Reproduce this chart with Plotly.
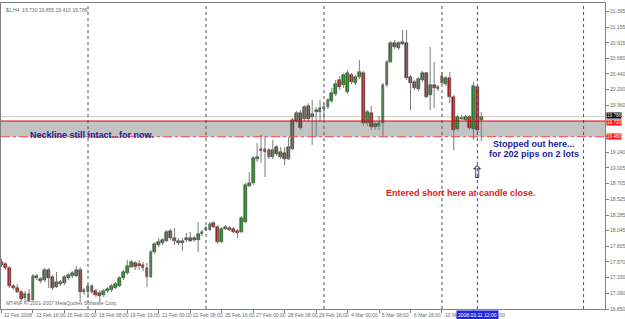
import plotly.graph_objects as go

# ---------------- data (H4 bars from 12 Feb 2008 08:00) ----------------
opens = [17.567, 17.537, 17.476, 17.201, 17.171, 17.109, 17.018, 17.079, 16.987, 17.353,
         17.308, 17.293, 17.445, 17.338, 17.186, 17.232, 17.247, 17.323, 17.353, 17.353,
         17.445, 17.109, 17.109, 17.201, 17.125, 17.094, 17.064, 17.125, 17.140, 17.171,
         17.201, 17.323, 17.399, 17.491, 17.552, 17.537, 17.522, 17.476, 17.338, 17.720,
         17.827, 17.857, 17.888, 18.041, 17.934, 17.888, 17.857, 17.903, 17.934, 17.934,
         17.903, 17.995, 18.056, 18.056, 18.163, 18.102, 17.873, 18.072, 18.087, 18.072,
         18.041, 18.025, 18.178, 18.728, 18.774, 19.140, 19.292, 19.292, 19.277, 19.171,
         19.323, 19.171, 19.231, 19.140, 19.292, 19.720, 19.842, 19.751, 19.949, 19.781,
         19.858, 19.858, 19.903, 19.934, 20.026, 20.132, 20.346, 20.270, 20.163, 20.423,
         20.300, 20.392, 20.453, 19.690, 19.842, 19.629, 19.644, 19.690, 20.270, 20.621,
         20.911, 20.835, 20.896, 20.911, 20.392, 20.316, 20.209, 20.346, 20.453, 20.117,
         20.270, 20.209, 20.407, 20.285, 20.377, 20.087, 19.598, 19.751, 19.735, 19.781,
         19.598, 20.239, 19.730]
highs = [17.614, 17.567, 17.506, 17.232, 17.232, 17.140, 17.125, 17.156, 17.384, 17.384,
         17.338, 17.476, 17.476, 17.369, 17.415, 17.293, 17.369, 17.399, 17.430, 17.506,
         17.491, 17.171, 17.232, 17.232, 17.156, 17.140, 17.156, 17.186, 17.232, 17.262,
         17.353, 17.445, 17.598, 17.598, 17.583, 17.598, 17.567, 17.552, 17.751, 17.873,
         17.934, 17.934, 18.056, 18.072, 18.087, 17.934, 17.934, 18.010, 18.025, 17.964,
         18.178, 18.056, 18.117, 18.178, 18.194, 18.133, 18.102, 18.133, 18.117, 18.102,
         18.072, 18.270, 18.774, 18.941, 19.186, 19.384, 19.506, 19.491, 19.308, 19.430,
         19.354, 19.323, 19.323, 19.476, 19.766, 19.873, 19.888, 19.964, 19.995, 20.041,
         19.934, 20.041, 20.010, 20.071, 20.224, 20.346, 20.407, 20.453, 20.499, 20.453,
         20.423, 20.651, 20.484, 19.888, 19.949, 19.705, 19.797, 20.300, 20.651, 20.942,
         20.957, 20.942, 21.110, 21.110, 20.423, 20.346, 20.392, 20.484, 20.468, 20.850,
         20.621, 20.270, 20.468, 20.407, 20.468, 20.117, 19.812, 19.812, 19.812, 19.812,
         20.316, 20.270, 19.855]
lows = [17.491, 17.445, 17.171, 17.140, 17.094, 16.972, 16.926, 16.956, 16.972, 17.293,
        17.247, 17.262, 17.171, 17.140, 17.171, 17.201, 17.217, 17.293, 17.323, 17.338,
        16.956, 17.064, 17.018, 17.079, 17.033, 16.956, 17.033, 17.094, 17.109, 17.156,
        17.186, 17.293, 17.369, 17.476, 17.445, 17.445, 17.430, 17.186, 17.323, 17.690,
        17.796, 17.827, 17.873, 17.903, 17.827, 17.827, 17.736, 17.873, 17.873, 17.873,
        17.720, 17.964, 18.041, 18.041, 18.087, 17.842, 17.857, 18.056, 18.041, 18.010,
        17.934, 18.010, 18.163, 18.713, 18.743, 19.094, 19.079, 18.865, 19.140, 19.140,
        19.186, 19.140, 19.049, 19.125, 19.277, 19.690, 19.583, 19.720, 19.720, 19.354,
        19.476, 19.705, 19.735, 19.903, 19.995, 20.102, 20.193, 20.224, 20.132, 20.285,
        20.270, 20.362, 19.644, 19.644, 19.583, 19.583, 19.583, 19.476, 20.239, 20.606,
        20.819, 20.804, 20.880, 20.346, 19.888, 20.193, 20.178, 20.316, 20.071, 19.888,
        19.919, 20.178, 20.270, 20.255, 19.995, 19.277, 19.568, 19.735, 19.720, 19.583,
        19.430, 19.552, 19.410]
closes = [17.522, 17.476, 17.201, 17.171, 17.109, 17.002, 17.079, 16.972, 17.353, 17.323,
          17.278, 17.445, 17.323, 17.171, 17.262, 17.262, 17.338, 17.369, 17.399, 17.445,
          17.109, 17.140, 17.201, 17.109, 17.064, 17.048, 17.125, 17.156, 17.201, 17.232,
          17.323, 17.415, 17.506, 17.567, 17.491, 17.506, 17.476, 17.338, 17.720, 17.842,
          17.873, 17.903, 18.025, 17.934, 17.888, 17.857, 17.888, 17.934, 17.888, 17.903,
          17.995, 18.025, 18.087, 18.148, 18.102, 17.873, 18.072, 18.102, 18.056, 18.025,
          18.010, 18.239, 18.743, 18.774, 19.155, 19.171, 19.262, 19.247, 19.171, 19.277,
          19.216, 19.247, 19.140, 19.323, 19.735, 19.842, 19.613, 19.934, 19.751, 19.827,
          19.888, 19.919, 19.934, 20.041, 20.148, 20.285, 20.239, 20.423, 20.453, 20.316,
          20.392, 20.468, 19.690, 19.858, 19.629, 19.675, 19.690, 20.270, 20.621, 20.911,
          20.850, 20.911, 20.926, 20.377, 20.300, 20.224, 20.362, 20.453, 20.087, 20.270,
          20.224, 20.239, 20.300, 20.377, 20.087, 19.583, 19.781, 19.766, 19.781, 19.614,
          20.255, 19.583, 19.786]

x_tick_idx = [0, 8, 16, 24, 32, 40, 48, 56, 64, 72, 80, 88, 96, 104, 112, 120]
x_tick_labels = ["12 Feb 2008", "13 Feb 16:00", "15 Feb 00:00", "18 Feb 08:00",
                 "19 Feb 16:00", "21 Feb 00:00", "22 Feb 08:00", "25 Feb 16:00",
                 "27 Feb 00:00", "28 Feb 08:00", "29 Feb 16:00", "4 Mar 00:00",
                 "5 Mar 08:00", "6 Mar 16:00", "10 Mar 00:00", "11 Mar 08:00"]
separators = [22, 52, 82, 112, 148]
cursor_idx = 121
cursor_label = "2008.03.11 12:00"

y_tick_vals = [21.395, 21.155, 20.915, 20.680, 20.440, 20.200, 19.960, 19.720, 19.480,
               19.240, 19.005, 18.765, 18.525, 18.285, 18.045, 17.805, 17.570, 17.330,
               17.090, 16.850]
y_tick_text = ["21.395", "21.155", "20.915", "20.680", "20.440", "20.200", "19.960", "", "",
               "19.240", "19.005", "18.765", "18.525", "18.285", "18.045", "17.805", "17.570",
               "17.330", "17.090", "16.850"]
neck_top = 19.720
neck_bot = 19.480
bid = 19.786
header = "$1,H4  19.730 19.855 19.410 19.786"

# ---------------- figure ----------------
idx = list(range(len(opens)))
wx, wy = [], []
for i in idx:
    wx += [i, i, None]
    wy += [lows[i], highs[i], None]

body_base = [min(o, c) for o, c in zip(opens, closes)]
body_h = [max(abs(c - o), 0.012) for o, c in zip(opens, closes)]
body_col = ["#1f8a1f" if c >= o else "#b02020" for o, c in zip(opens, closes)]

fig = go.Figure()
fig.add_trace(go.Scatter(x=wx, y=wy, mode="lines", line=dict(color="#7a7a7a", width=1),
                         hoverinfo="skip", showlegend=False))
fig.add_trace(go.Bar(x=idx, y=body_h, base=body_base, width=0.72,
                     marker=dict(color=body_col, line=dict(color="#202020", width=0.5)),
                     showlegend=False))

shapes = []
shapes.append(dict(type="rect", xref="paper", x0=0, x1=1, yref="y", y0=neck_bot, y1=neck_top,
                   fillcolor="#c3c3c3", line=dict(width=0), layer="below"))
shapes.append(dict(type="line", xref="paper", x0=0, x1=1, yref="y", y0=bid, y1=bid,
                   line=dict(color="#c8c8c8", width=1), layer="below"))
for s in separators:
    shapes.append(dict(type="line", xref="x", x0=s, x1=s, yref="paper", y0=0, y1=1,
                       line=dict(color="#505050", width=1, dash="dot"), layer="below"))
shapes.append(dict(type="line", xref="x", x0=cursor_idx, x1=cursor_idx, yref="paper", y0=0, y1=1,
                   line=dict(color="#3a3aff", width=1, dash="dot")))
shapes.append(dict(type="line", xref="paper", x0=0, x1=1, yref="y", y0=neck_top, y1=neck_top,
                   line=dict(color="#e00000", width=1)))
shapes.append(dict(type="line", xref="paper", x0=0, x1=1, yref="y", y0=neck_bot, y1=neck_bot,
                   line=dict(color="#ff4040", width=1, dash="dashdot")))

ann = []
small = dict(family="Liberation Sans", size=5, color="#6a6a6a")
for i, t in zip(x_tick_idx, x_tick_labels):
    ann.append(dict(x=i, xref="x", y=0, yref="paper", text=t, showarrow=False,
                    xanchor="left", yanchor="top", xshift=1, yshift=-1, font=small))
ann.append(dict(x=cursor_idx, xref="x", y=0, yref="paper", text=cursor_label, showarrow=False,
                xanchor="center", yanchor="top", yshift=-1, bgcolor="#2424e0", borderpad=1,
                font=dict(family="Liberation Sans", size=5, color="white")))
ann.append(dict(x=1, xref="paper", y=bid, yref="y", text="19.786", showarrow=False,
                xanchor="left", xshift=1, yshift=1, bgcolor="black", borderpad=0,
                font=dict(family="Liberation Sans", size=4.6, color="white")))
for v, t, sh in [(neck_top, "19.720", -1), (neck_bot, "19.480", 0)]:
    ann.append(dict(x=1, xref="paper", y=v, yref="y", text=t, showarrow=False,
                    xanchor="left", xshift=1, yshift=sh, bgcolor="#ff1010", borderpad=0,
                    font=dict(family="Liberation Sans", size=4.6, color="white")))
ann.append(dict(x=0, xref="paper", y=1, yref="paper", text=header, showarrow=False,
                xanchor="left", yanchor="top", xshift=3, yshift=-2, font=small))
ann.append(dict(x=0, xref="paper", y=0, yref="paper",
                text="MT4NF, © 2001-2007 MetaQuotes Software Corp.", showarrow=False,
                xanchor="left", yanchor="bottom", xshift=3, yshift=1, font=small))
blue = dict(family="Liberation Sans", size=9, color="#1a1aa0")
ann.append(dict(x=6.75, xref="x", y=19.507, yref="y", text="<b>Neckline still intact...for now.</b>",
                showarrow=False, xanchor="left", yanchor="middle", font=blue))
ann.append(dict(x=135.4, xref="x", y=19.369, yref="y", text="<b>Stopped out here...</b>",
                showarrow=False, xanchor="center", yanchor="middle", font=blue))
ann.append(dict(x=135.4, xref="x", y=19.216, yref="y", text="<b>for 202 pips on 2 lots</b>",
                showarrow=False, xanchor="center", yanchor="middle", font=blue))
ann.append(dict(x=116.8, xref="x", y=18.621, yref="y", text="<b>Entered short here at candle close.</b>",
                showarrow=False, xanchor="center", yanchor="middle",
                font=dict(family="Liberation Sans", size=9, color="#e81818")))
ann.append(dict(x=cursor_idx, xref="x", y=18.942, yref="y", text="⇧", showarrow=False,
                xanchor="center", yanchor="middle",
                font=dict(family="DejaVu Sans", size=17, color="#2a2a3a")))

fig.update_layout(
    width=625, height=319, margin=dict(l=1, r=20, t=3, b=10),
    paper_bgcolor="white", plot_bgcolor="white",
    shapes=shapes, annotations=ann, showlegend=False, bargap=0,
    xaxis=dict(range=[-0.12, 153.45], showgrid=False, zeroline=False, showline=True, mirror=True,
               linecolor="#808080", linewidth=1, ticks="outside", ticklen=3, tickcolor="#808080",
               tickvals=x_tick_idx, showticklabels=False, fixedrange=True),
    yaxis=dict(range=[16.85, 21.522], side="right", showgrid=False, zeroline=False, showline=True,
               mirror=True, linecolor="#808080", linewidth=1, ticks="outside", ticklen=3,
               tickcolor="#808080", tickvals=y_tick_vals, ticktext=y_tick_text,
               tickfont=dict(family="Liberation Sans", size=5, color="#6a6a6a"),
               automargin=False, fixedrange=True),
)

fig.write_html("out.html")
